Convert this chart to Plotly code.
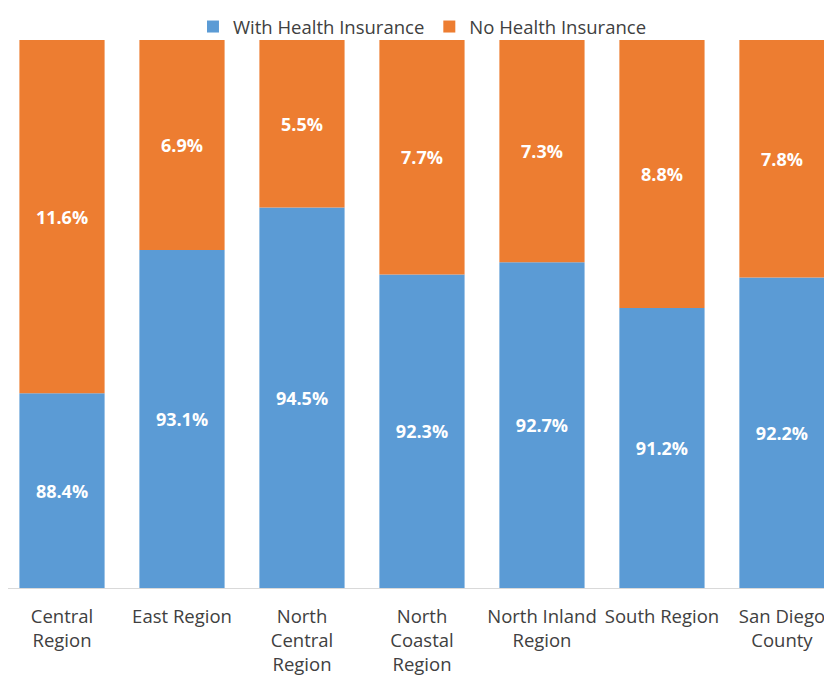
import plotly.graph_objects as go

categories = ["Central<br>Region", "East Region", "North<br>Central<br>Region", "North<br>Coastal<br>Region",
              "North Inland<br>Region", "South Region", "San Diego<br>County"]
with_insurance = [88.4, 93.1, 94.5, 92.3, 92.7, 91.2, 92.2]
no_insurance = [11.6, 6.9, 5.5, 7.7, 7.3, 8.8, 7.8]
axis_min = 82

blue = "#5B9BD5"
orange = "#ED7D31"
font_family = "Open Sans, Lato, sans-serif"

x = list(range(len(categories)))
label_font = dict(color="white", size=18, family=font_family, weight="bold")

fig = go.Figure()
fig.add_trace(go.Bar(
    x=x, y=[v - axis_min for v in with_insurance], base=[axis_min] * len(x),
    name="With Health Insurance",
    marker=dict(color=blue, line=dict(width=0)),
    text=[f"{v:.1f}%" for v in with_insurance], textposition="inside",
    insidetextanchor="middle", textfont=label_font, width=0.71,
))
fig.add_trace(go.Bar(
    x=x, y=no_insurance, base=with_insurance, name="No Health Insurance",
    marker=dict(color=orange, line=dict(width=0)),
    text=[f"{v:.1f}%" for v in no_insurance], textposition="inside",
    insidetextanchor="middle", textfont=label_font, width=0.71,
))

fig.update_layout(
    barmode="overlay",
    width=824, height=674,
    margin=dict(l=0, r=0, t=32, b=94, autoexpand=False),
    paper_bgcolor="white", plot_bgcolor="white",
    font=dict(family=font_family, color="#404040", size=18.5),
    uniformtext=dict(mode=False),
    legend=dict(orientation="h", x=0.503, xanchor="center",
                yref="container", y=1.0, yanchor="top",
                bgcolor="rgba(0,0,0,0)",
                font=dict(size=18.5, color="#404040"), traceorder="normal"),
    xaxis=dict(tickmode="array", tickvals=x, ticktext=categories,
               range=[-0.45, 6.417], showgrid=False, zeroline=False,
               showline=True, linecolor="#D9D9D9", linewidth=1,
               ticks="", ticklabelstandoff=12, tickfont=dict(size=18.5, color="#404040")),
    yaxis=dict(range=[axis_min, 100], showticklabels=False, showgrid=False,
               zeroline=False, showline=False),
)

fig.write_html("out.html")
